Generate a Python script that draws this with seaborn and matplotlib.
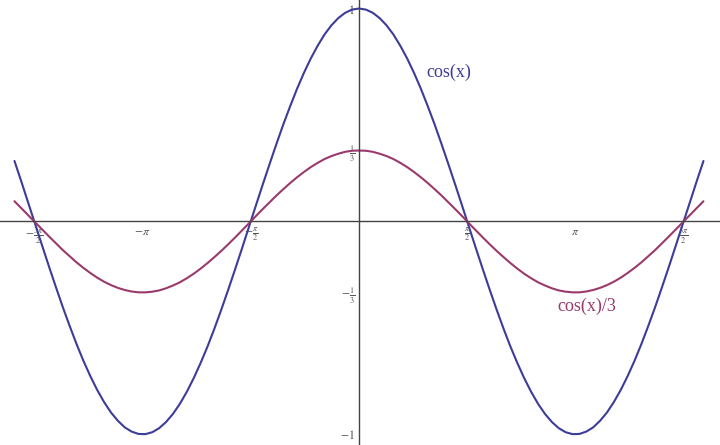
import numpy as np
import pandas as pd
import matplotlib
matplotlib.use("Agg")
import matplotlib.pyplot as plt
import seaborn as sns

# values, x step 0.1 from -5 to 5 (curves are symmetric)
x_vals = [round(-5 + 0.1 * i, 1) for i in range(101)]
# x = -5.0 ... 0.0
cos_half = [0.284, 0.187, 0.087, -0.012, -0.112, -0.211, -0.307, -0.401, -0.490, -0.575,
            -0.654, -0.726, -0.791, -0.848, -0.897, -0.936, -0.967, -0.987, -0.998, -0.999,
            -0.990, -0.971, -0.942, -0.904, -0.857, -0.801, -0.737, -0.666, -0.589, -0.505,
            -0.416, -0.323, -0.227, -0.129, -0.029, 0.071, 0.170, 0.267, 0.362, 0.454,
            0.540, 0.622, 0.697, 0.765, 0.825, 0.878, 0.921, 0.955, 0.980, 0.995,
            1.000]
cos3_half = [0.095, 0.062, 0.029, -0.004, -0.037, -0.070, -0.102, -0.134, -0.163, -0.192,
             -0.218, -0.242, -0.264, -0.283, -0.299, -0.312, -0.322, -0.329, -0.333, -0.333,
             -0.330, -0.324, -0.314, -0.301, -0.286, -0.267, -0.246, -0.222, -0.196, -0.168,
             -0.139, -0.108, -0.076, -0.043, -0.010, 0.024, 0.057, 0.089, 0.121, 0.151,
             0.180, 0.207, 0.232, 0.255, 0.275, 0.293, 0.307, 0.318, 0.327, 0.332,
             0.333]
cos_y = cos_half + cos_half[-2::-1]
cos3_y = cos3_half + cos3_half[-2::-1]

x_ticks = [-3 * np.pi / 2, -np.pi, -np.pi / 2, np.pi / 2, np.pi, 3 * np.pi / 2]
x_labels = [r'$-\frac{3\pi}{2}$', r'$-\pi$', r'$-\frac{\pi}{2}$',
            r'$\frac{\pi}{2}$', r'$\pi$', r'$\frac{3\pi}{2}$']
y_ticks = [-1, -1 / 3, 1 / 3, 1]
y_labels = [r'$-1$', r'$-\frac{1}{3}$', r'$\frac{1}{3}$', r'$1$']

blue = '#3c3c99'
plum = '#9a3a6c'

df = pd.DataFrame({'x': x_vals, 'cos': cos_y, 'cos3': cos3_y})

sns.set_style("white")
plt.rcParams['font.family'] = ['Liberation Serif', 'DejaVu Serif']
plt.rcParams['mathtext.fontset'] = 'stix'

fig = plt.figure(figsize=(7.2, 4.45), dpi=100)
ax = fig.add_axes([0, 0, 1, 1])

sns.lineplot(data=df, x='x', y='cos', color=blue, lw=1.5, ax=ax)
sns.lineplot(data=df, x='x', y='cos3', color=plum, lw=1.5, ax=ax)

ax.set_xlim(-5.21, 5.24)
ax.set_ylim(-1.05, 1.04)

for side in ['top', 'right']:
    ax.spines[side].set_visible(False)
for side in ['left', 'bottom']:
    ax.spines[side].set_position(('data', 0))
    ax.spines[side].set_color('#444444')
    ax.spines[side].set_linewidth(1.0)

ax.set_xticks(x_ticks)
ax.set_xticklabels(x_labels, fontsize=8.5, color='#555555')
ax.set_yticks(y_ticks)
ax.set_yticklabels(y_labels, fontsize=8.5, color='#555555')
ax.tick_params(direction='in', length=4, width=0.8, color='#444444', pad=3)
ax.set_xlabel('')
ax.set_ylabel('')

ax.text(1.3, 0.7, 'cos(x)', color=blue, fontsize=13, ha='center', va='center')
ax.text(3.31, -0.4, 'cos(x)/3', color=plum, fontsize=13, ha='center', va='center')

fig.savefig('out.png', dpi=100)
